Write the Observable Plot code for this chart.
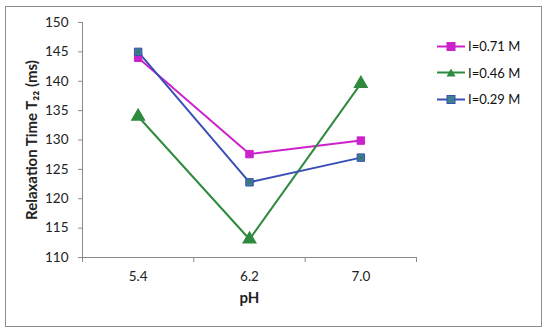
<!DOCTYPE html>
<html>
<head>
<meta charset="utf-8">
<script src="https://cdn.jsdelivr.net/npm/d3@7"></script>
<script src="https://cdn.jsdelivr.net/npm/@observablehq/plot@0.6"></script>
<style>
  html, body { margin: 0; padding: 0; background: #fff; }
  #wrap { position: relative; width: 550px; height: 336px; overflow: hidden; font-family: Lato, "Open Sans", sans-serif; }
  #frame { position: absolute; left: 5px; top: 6px; width: 537px; height: 321px; border: 1px solid #8c8c8c; box-sizing: border-box; pointer-events: none; }
  #legend { position: absolute; left: 436px; top: 33px; font-size: 13px; color: #111; }
  .row { display: flex; align-items: center; height: 26.6px; }
  .row svg { margin-right: 2px; }
  svg { overflow: visible; }
</style>
</head>
<body>
<div id="wrap"><div id="frame"></div><div id="legend"></div></div>
<script>
const pH = ["5.4", "6.2", "7.0"];
const seriesNames = ["I=0.71 M", "I=0.46 M", "I=0.29 M"];
const i071 = [144.0, 127.6, 129.9];
const i046 = [134.0, 113.1, 139.6];
const i029 = [145.0, 122.8, 127.0];
const yTicks = [110, 115, 120, 125, 130, 135, 140, 145, 150];

const colors = {"I=0.71 M": "#cc22cc", "I=0.46 M": "#2e8b3e", "I=0.29 M": "#3a4fb5"};
const markFill = {"I=0.71 M": "#cc22cc", "I=0.46 M": "#2e8b3e", "I=0.29 M": "#3f7f8f"};
const symbols = {"I=0.71 M": "square", "I=0.46 M": "triangle", "I=0.29 M": "square"};

const rows = [];
[i071, i046, i029].forEach((vals, s) => {
  vals.forEach((v, i) => rows.push({series: seriesNames[s], xi: i + 0.5, pH: pH[i], v}));
});

const fontFam = 'Lato, "Open Sans", sans-serif';

const chart = Plot.plot({
  width: 550,
  height: 336,
  marginLeft: 82,
  marginRight: 134,
  marginTop: 22,
  marginBottom: 79,
  style: {fontFamily: fontFam, fontSize: "13.5px", color: "#222", background: "transparent"},
  x: {domain: [0, pH.length]},
  y: {domain: [110, 150]},
  marks: [
    Plot.ruleY([110], {stroke: "#8a8a8a"}),
    Plot.ruleX([0], {stroke: "#8a8a8a"}),
    Plot.axisY({ticks: yTicks, tickSize: 4, tickPadding: 10, stroke: "#8a8a8a", label: null, tickFormat: d => d}),
    Plot.axisX({ticks: d3.range(pH.length + 1), tickSize: 5, tickFormat: () => "", stroke: "#8a8a8a", label: null}),
    Plot.axisX({ticks: pH.map((p, i) => i + 0.5), tickSize: 0, tickPadding: 14, tickFormat: d => pH[Math.round(d - 0.5)], label: null}),
    Plot.line(rows, {x: "xi", y: "v", z: "series", stroke: d => colors[d.series], strokeWidth: 2}),
    Plot.dot(rows.filter(d => d.series === "I=0.46 M"), {x: "xi", y: "v", symbol: "triangle", r: 4.6, fill: d => markFill[d.series], stroke: "#2e8b3e"}),
    Plot.dot(rows.filter(d => d.series !== "I=0.46 M"), {x: "xi", y: "v", symbol: "square", r: 4.2, fill: d => markFill[d.series], stroke: d => d.series === "I=0.29 M" ? "#3a4fb5" : "#cc22cc", strokeWidth: 1}),
    Plot.text(rows.filter(d => d.series === "I=0.29 M"), {x: "xi", y: "v", text: () => "×", fill: "#2e6f5e", fontSize: 9}),
    Plot.text(["pH"], {frameAnchor: "bottom", dy: 45, fontWeight: "bold", fontSize: 15, text: d => d}),
    Plot.text(["Relaxation Time T₂₂ (ms)"], {frameAnchor: "left", dx: -50, dy: 0, rotate: -90, textAnchor: "middle", fontWeight: "bold", fontSize: 15, text: d => d})
  ]
});
document.getElementById("wrap").appendChild(chart);
chart.style.position = "absolute";
chart.style.left = "0px";
chart.style.top = "0px";

// Legend
const leg = document.getElementById("legend");
seriesNames.forEach(name => {
  const row = document.createElement("div");
  row.className = "row";
  const sym = symbols[name];
  const marker = sym === "triangle"
    ? `<path d="M15,4.5 L19.5,12.5 L10.5,12.5 Z" fill="${markFill[name]}"/>`
    : `<rect x="11" y="4.5" width="8" height="8" fill="${markFill[name]}" stroke="${colors[name]}"/>`;
  row.innerHTML = `<svg width="30" height="17"><line x1="1" x2="29" y1="8.5" y2="8.5" stroke="${colors[name]}" stroke-width="2"/>${marker}</svg><span>${name}</span>`;
  leg.appendChild(row);
});
</script>
</body>
</html>
